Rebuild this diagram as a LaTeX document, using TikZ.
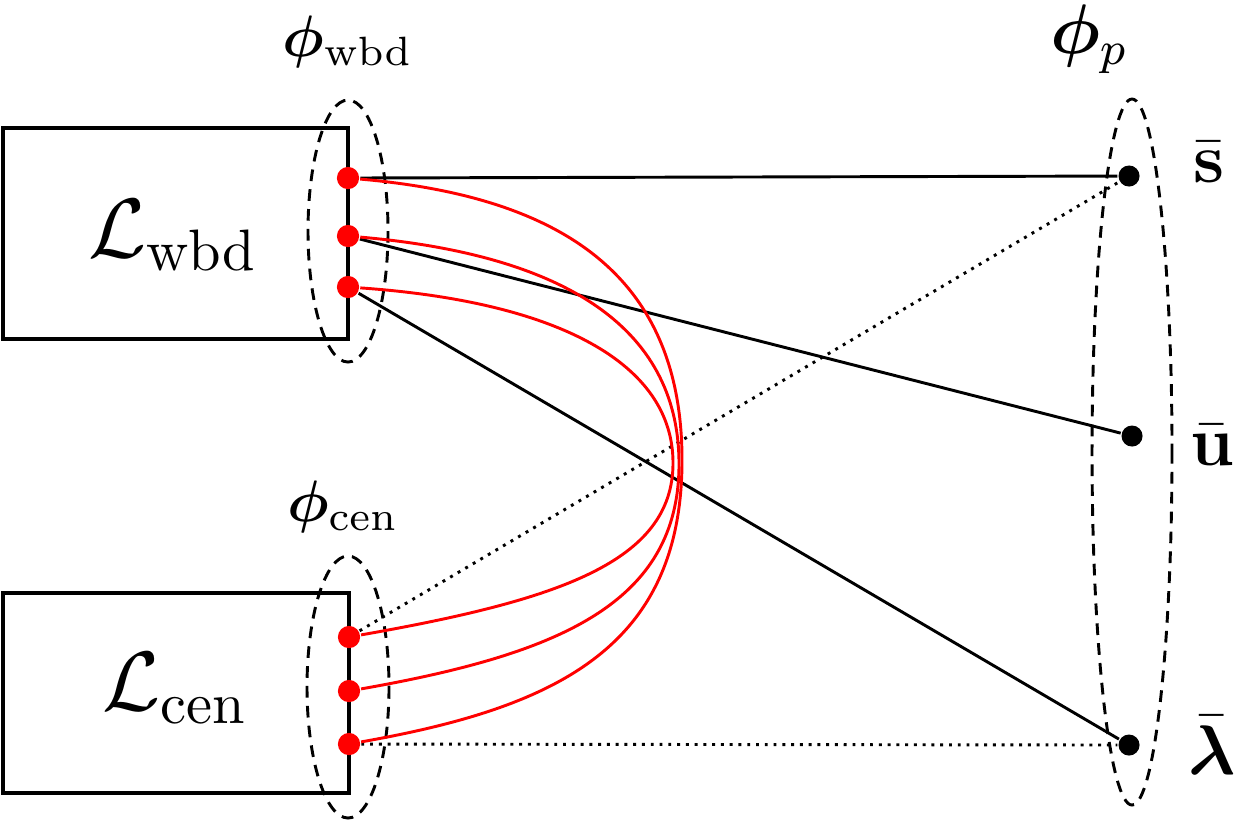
\documentclass[tikz,border=0pt]{standalone}
\usepackage{bm}
\begin{document}
\begin{tikzpicture}[x=0.171pt,y=-0.171pt,
    port/.style={circle,fill=red,inner sep=0pt,minimum size=3.8pt},
    var/.style={circle,fill=black,inner sep=0pt,minimum size=3.6pt},
    group/.style={dash pattern=on 2pt off 1.4pt,line width=0.5pt},
    link/.style={line width=0.5pt},
    cross/.style={red,line width=0.5pt}]
  \useasboundingbox (0,0) rectangle (1239,837);
  % blocks
  \draw[line width=0.6pt] (3,128) rectangle (348,339);
  \draw[line width=0.6pt] (3,593) rectangle (349,793);
  \node (Lw) at (173,235) {\Large $\mathcal{L}_{\mathrm{wbd}}$};
  \node (Lc) at (175,688) {\Large $\mathcal{L}_{\mathrm{cen}}$};
  % groups
  \draw[group] (348,231) ellipse (40 and 131);
  \draw[group] (348,687) ellipse (41 and 131);
  \draw[group] (1132,452) ellipse (40 and 353);
  \node (pw) at (348,42) {$\bm{\phi}_{\mathrm{wbd}}$};
  \node (pc) at (343,507) {$\bm{\phi}_{\mathrm{cen}}$};
  \node (pp) at (1089,39) {\large $\bm{\phi}_p$};
  % ports
  \node[port] (w1) at (348,178) {};
  \node[port] (w2) at (348,236) {};
  \node[port] (w3) at (348,287) {};
  \node[port] (c1) at (349,637) {};
  \node[port] (c2) at (349,691) {};
  \node[port] (c3) at (349,744) {};
  \node[var] (s) at (1129,176) {};
  \node[var] (u) at (1132,436) {};
  \node[var] (lam) at (1129,745) {};
  \node (sl) at (1209,162) {\large $\bar{\mathbf{s}}$};
  \node (ul) at (1212,445) {\large $\bar{\mathbf{u}}$};
  \node (ll) at (1212,745) {\large $\bar{\bm{\lambda}}$};
  % links
  \draw[link] (w1) -- (s);
  \draw[link] (w2) -- (u);
  \draw[link] (w3) -- (lam);
  \draw[link,densely dotted] (c1) -- (s);
  \draw[link,densely dotted] (c3) -- (lam);
  % red couplings
  \coordinate (m1) at (682,460);
  \coordinate (m2) at (679,464);
  \coordinate (m3) at (673,463);
  \draw[cross] (w1) to[out=-5,in=90,out distance=34pt,in distance=32pt] (m1)
    to[out=-90,in=10,out distance=32pt,in distance=34pt] (c3);
  \draw[cross] (w2) to[out=-5,in=90,out distance=34pt,in distance=24pt] (m2)
    to[out=-90,in=10,out distance=24pt,in distance=34pt] (c2);
  \draw[cross] (w3) to[out=-4,in=90,out distance=34pt,in distance=17pt] (m3)
    to[out=-90,in=10,out distance=17pt,in distance=34pt] (c1);
\end{tikzpicture}
\end{document}
